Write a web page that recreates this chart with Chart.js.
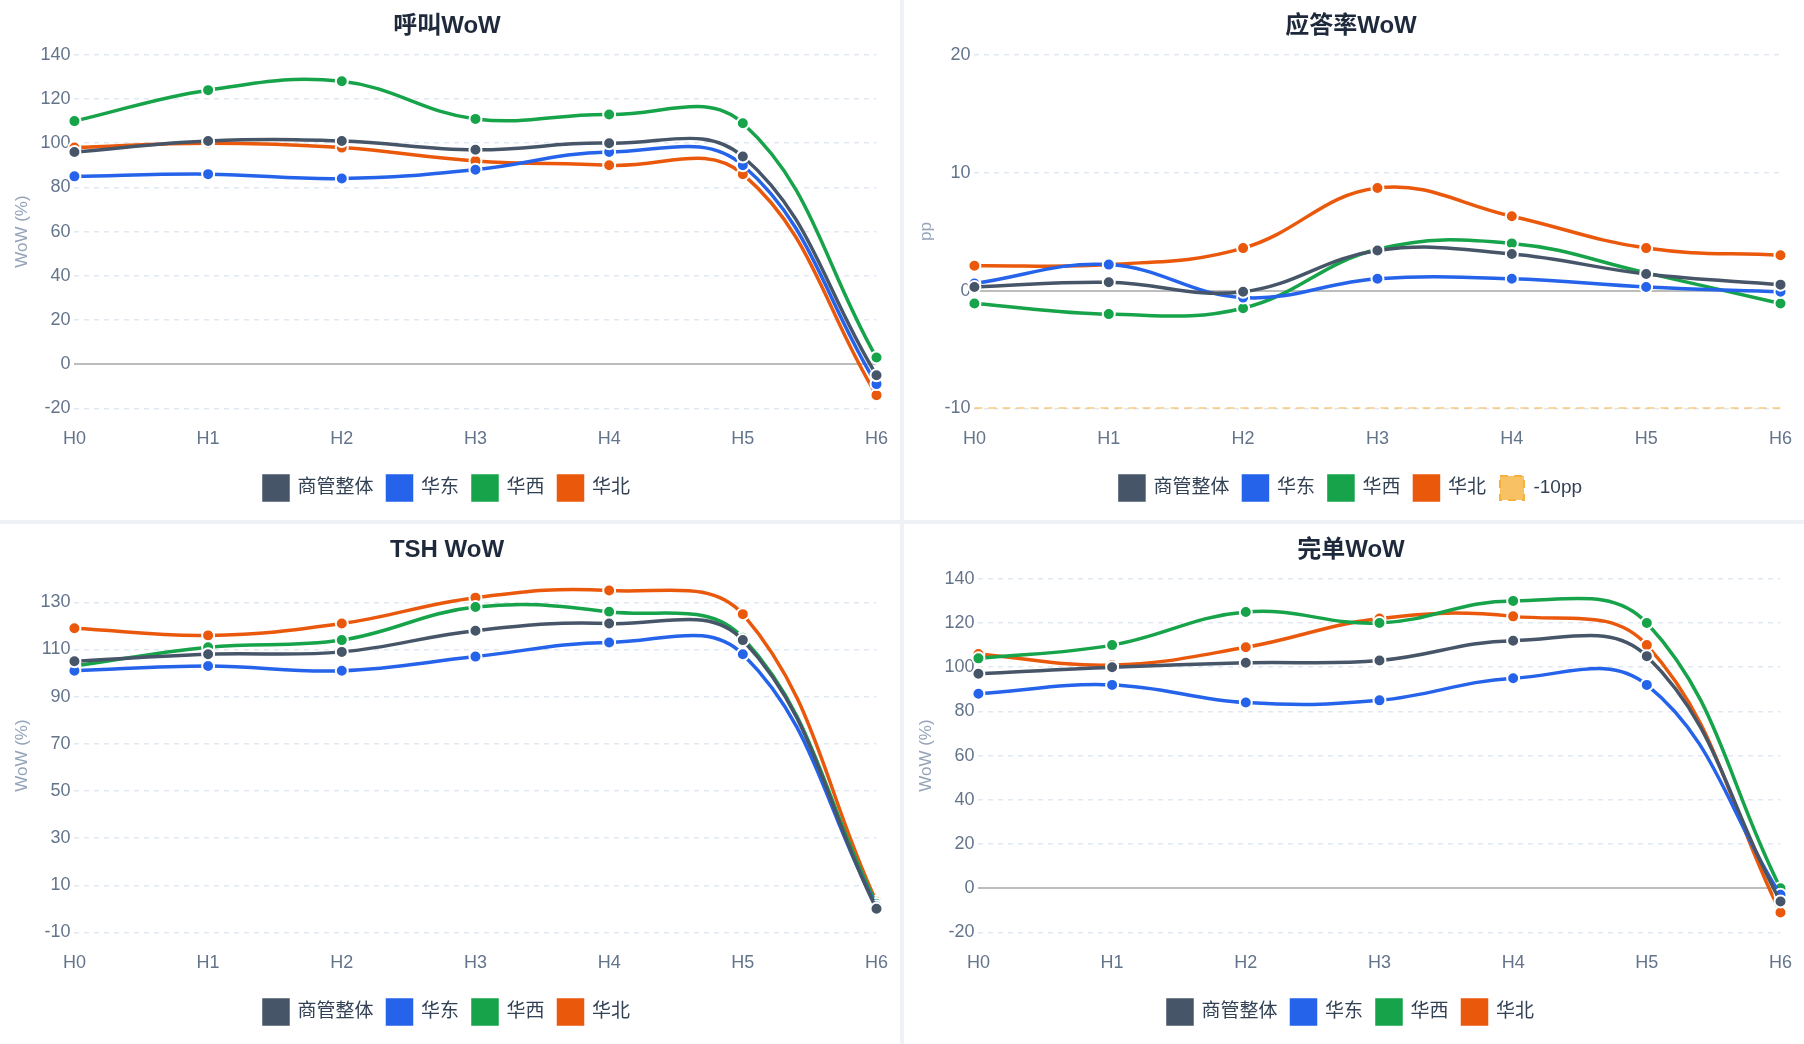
<!DOCTYPE html><html><head><meta charset="utf-8">
<script src="https://cdn.jsdelivr.net/npm/chart.js@4"></script>
<style>
html,body{margin:0;padding:0;background:#eef1f5;}
#g{display:grid;grid-template-columns:900px 900px;grid-template-rows:520px 520px;gap:4px;width:1804px;height:1044px;}
.p{background:#fff;position:relative;}
canvas{display:block}
</style></head><body>
<div id="g"><div class="p"><canvas id="c1"></canvas></div><div class="p"><canvas id="c2"></canvas></div><div class="p"><canvas id="c3"></canvas></div><div class="p"><canvas id="c4"></canvas></div></div>
<script>
const labels=["H0","H1","H2","H3","H4","H5","H6"];
const seriesNames=["商管整体","华东","华西","华北"];
const colors=["#475569","#2563eb","#16a34a","#ea580c"];
const callAll=[96,101,101,97,100,94,-5], callE=[85,86,84,88,96,90,-9], callW=[110,124,128,111,113,109,3], callN=[98,100,98,92,90,86,-14];
const ansAll=[0.3,0.7,-0.1,3.4,3.1,1.4,0.5], ansE=[0.6,2.2,-0.6,1.0,1.0,0.3,-0.1], ansW=[-1.1,-2.0,-1.5,3.5,4.0,1.5,-1.1], ansN=[2.1,2.2,3.6,8.7,6.3,3.6,3.0];
const thresh=[-10,-10,-10,-10,-10,-10,-10];
const tshAll=[105,108,109,118,121,114,0], tshE=[101,103,101,107,113,108,1], tshW=[103,111,114,128,126,115,2], tshN=[119,116,121,132,135,125,3];
const ordAll=[97,100,102,103,112,105,-6], ordE=[88,92,84,85,95,92,-3], ordW=[104,110,125,120,130,120,0], ordN=[106,101,109,122,123,110,-11];
const FONT="'Liberation Sans','Noto Sans CJK SC',sans-serif";
function ds(arrs){return arrs.map((d,i)=>({label:seriesNames[i],data:d,borderColor:colors[i],backgroundColor:colors[i],borderWidth:3.5,tension:0.4,pointRadius:6,pointBorderColor:"#fff",pointBorderWidth:2,pointBackgroundColor:colors[i]}));}
function make(id,title,datasets,yTitle,min,max,step){
 new Chart(document.getElementById(id),{type:"line",data:{labels,datasets},options:{responsive:true,maintainAspectRatio:false,animation:false,
 layout:{padding:{left:8,right:14,top:8,bottom:10}},
 plugins:{title:{display:true,text:title,color:"#1e293b",font:{family:FONT,size:24,weight:"bold"},padding:{top:4,bottom:14}},
 legend:{position:"bottom",labels:{color:"#334155",font:{family:FONT,size:19},boxWidth:24,boxHeight:24,padding:14}}},
 scales:{x:{grid:{display:false},border:{display:false},ticks:{color:"#64748b",font:{family:FONT,size:18},padding:12}},
 y:{min,max,title:{display:true,text:yTitle,color:"#94a3b8",font:{family:FONT,size:17}},
 border:{display:false,dash:c=>(c.tick&&c.tick.value===0)?[]:[5,5]},
 ticks:{stepSize:step,color:"#64748b",font:{family:FONT,size:18},padding:4},
 grid:{color:c=>c.tick.value===0?"#bdbdbd":"#e2e8f0",lineWidth:c=>c.tick.value===0?2:1.5,drawTicks:false}
 }}}});
}
make("c1","呼叫WoW",ds([callAll,callE,callW,callN]),"WoW (%)",-20,140,10);
const ansDs=ds([ansAll,ansE,ansW,ansN]);
ansDs.push({label:"-10pp",data:thresh,borderColor:"#f6b13c",backgroundColor:"rgba(246,177,60,0.8)",borderDash:[8,6],borderWidth:2,pointRadius:0,tension:0});
make("c2","应答率WoW",ansDs,"pp",-10,20,10);
make("c3","TSH WoW",ds([tshAll,tshE,tshW,tshN]),"WoW (%)",-10,140,10);
make("c4","完单WoW",ds([ordAll,ordE,ordW,ordN]),"WoW (%)",-20,140,10);
</script></body></html>
